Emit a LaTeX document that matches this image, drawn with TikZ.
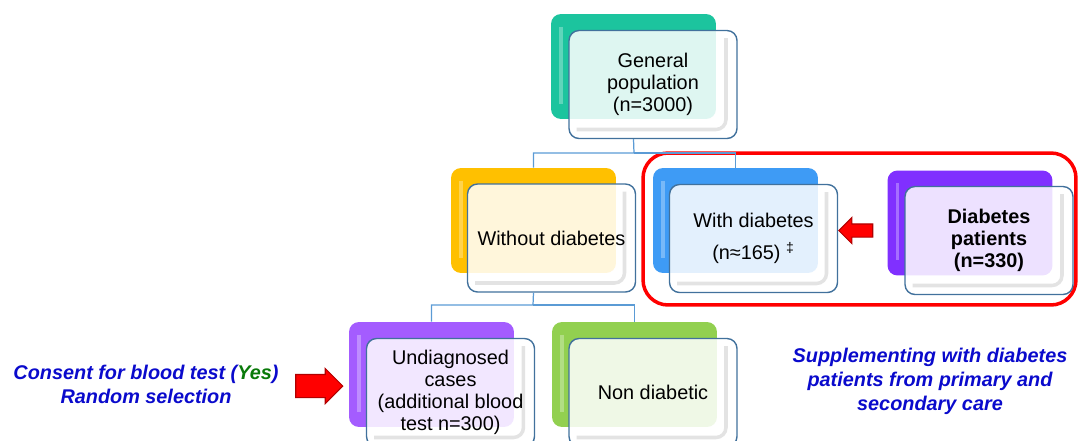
\documentclass[tikz,border=0pt]{standalone}
\usepackage{fontspec}
\setmainfont{Liberation Sans}
\usepackage{tikz}
\usetikzlibrary{shapes.arrows}
\definecolor{tealc}{HTML}{1CC49E}
\definecolor{goldc}{HTML}{FFC000}
\definecolor{bluec}{HTML}{3E9BF5}
\definecolor{violetc}{HTML}{8030FF}
\definecolor{lilac}{HTML}{A45CFF}
\definecolor{greenc}{HTML}{92D050}
\definecolor{edgeblue}{HTML}{41719C}
\definecolor{treeblue}{HTML}{5B9BD5}
\definecolor{noteblue}{HTML}{0A0ACC}
\definecolor{yesgreen}{HTML}{0A7A0A}
\definecolor{arrowedge}{HTML}{B00000}
\tikzstyle{back} = [rectangle, rounded corners=0.2cm, minimum width=3.3cm, minimum height=2.1cm, path picture={\draw[white, draw opacity=0.3, line width=2pt] ([xshift=0.2cm, yshift=-0.25cm]path picture bounding box.north west) -- ([xshift=0.2cm, yshift=0.3cm]path picture bounding box.south west);}]
\tikzstyle{front} = [rectangle, rounded corners=0.2cm, minimum width=3.36cm, minimum height=2.16cm, draw=edgeblue, line width=0.8pt, fill=white, fill opacity=0.86, text opacity=1, align=center, font=\fontsize{11.3}{12.5}\selectfont, path picture={\draw[gray!22, line width=2pt, draw opacity=1] ([xshift=-0.22cm, yshift=-0.15cm]path picture bounding box.north east) -- ([xshift=-0.22cm, yshift=0.18cm]path picture bounding box.south east) -- ([xshift=0.15cm, yshift=0.18cm]path picture bounding box.south west);}]
\tikzstyle{tree} = [draw=treeblue, line width=0.7pt]
\tikzstyle{redframe} = [rectangle, rounded corners=0.5cm, draw=red, line width=2pt, minimum width=8.66cm, minimum height=3.04cm]
\tikzstyle{redarrow} = [single arrow, draw=arrowedge, fill=red, inner xsep=0pt, line width=0.6pt]
\tikzstyle{note} = [align=center, text=noteblue, font=\bfseries\itshape\fontsize{11.3}{13.6}\selectfont]

\begin{document}
\begin{tikzpicture}[x=0.02cm, y=-0.02cm]
        \useasboundingbox (0,0) rectangle (1078,440);
        \node (grp) [redframe] at (859.5,229) {};

        \node (genbg) [back, fill=tealc] at (633.5,66.5) {};
        \node (gen) [front] at (653,84.5) {General\\population\\(n=3000)};
        \node (woutbg) [back, fill=goldc] at (533.5,220.5) {};
        \node (wout) [front] at (551.5,238) {Without diabetes};
        \node (withbg) [back, fill=bluec] at (735.5,220.5) {};
        \node (with) [front] at (753.5,238.5) {With diabetes\\[6pt](n≈165) \textsuperscript{‡}};
        \node (patbg) [back, fill=violetc] at (970,223) {};
        \node (pat) [front, font=\bfseries\fontsize{11.3}{12.5}\selectfont] at (989,240.5) {Diabetes\\patients\\(n=330)};
        \node (undbg) [back, fill=lilac] at (431.5,374.5) {};
        \node (und) [front] at (450.5,392.5) {Undiagnosed\\cases\\(additional blood\\test n=300)};
        \node (nondbg) [back, fill=greenc] at (634.5,374.5) {};
        \node (nond) [front] at (653,392.5) {Non diabetic};

        \coordinate (bus1) at (634,153);
        \coordinate (bus2) at (533,305);
        \draw [tree] (genbg |- gen.south) -- (bus1) -| (woutbg.north);
        \draw [tree] (bus1) -| (withbg.north);
        \draw [tree] (woutbg |- wout.south) -- (bus2) -| (undbg.north);
        \draw [tree] (bus2) -| (nondbg.north);

        \node (arrpat) [redarrow, shape border rotate=180, minimum height=0.68cm, inner ysep=0.12cm, single arrow head extend=0.13cm] at (859,230.5) {};
        \node (arrund) [redarrow, minimum height=0.94cm, inner ysep=0.22cm, single arrow head extend=0.12cm] at (313.5,386) {};

        \node (consent) [note] at (146,384) {Consent for blood test ({\color{yesgreen}Yes})\\Random selection};
        \node (suppl) [note] at (930,381) {Supplementing with diabetes\\patients from primary and\\secondary care};
    \end{tikzpicture}
\end{document}
